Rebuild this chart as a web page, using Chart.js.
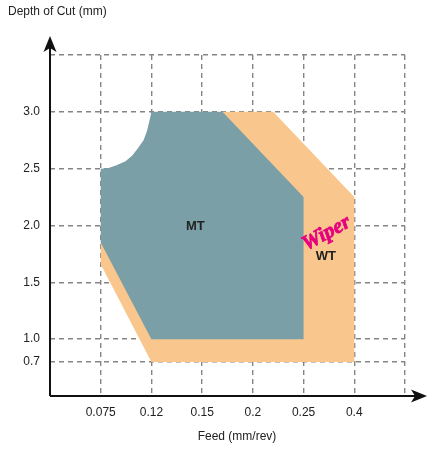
<!DOCTYPE html>
<html>
<head>
<meta charset="utf-8">
<script src="https://cdn.jsdelivr.net/npm/chart.js@4.4.1/dist/chart.umd.min.js"></script>
<style>
  body { margin: 0; background: #fff; }
  #wrap { width: 432px; height: 453px; }
</style>
</head>
<body>
<div id="wrap"><canvas id="cutChart"></canvas></div>
<script>
// axis ticks (schematic, evenly spaced on the chart)
const feedTicks = [0.075, 0.12, 0.15, 0.2, 0.25, 0.4];
const feedLabels = ['0.075', '0.12', '0.15', '0.2', '0.25', '0.4'];
const depthTicks = [0.7, 1.0, 1.5, 2.0, 2.5, 3.0];
const depthLabels = ['0.7', '1.0', '1.5', '2.0', '2.5', '3.0'];

// MT region outline (feed mm/rev, depth mm), curved top-left edge
const mtFeed  = [0.075, 0.082, 0.089, 0.097, 0.103, 0.108, 0.113, 0.116, 0.118, 0.12, 0.17, 0.25, 0.25, 0.12, 0.075, 0.075];
const mtDepth = [2.5,   2.505, 2.53,  2.565, 2.615, 2.68,  2.75,  2.83,  2.91,  3.0,  3.0,  2.25, 1.0,  1.0,  1.85,  2.5];

// WT (wiper) region outline
const wtFeed  = [0.12, 0.4, 0.4,  0.22, 0.17, 0.12, 0.075, 0.075, 0.12];
const wtDepth = [0.7,  0.7, 2.25, 3.0,  3.0,  2.0,  1.85,  1.66,  0.7];

// where each tick sits on the drawing grid
const feedSlots = [1, 2, 3, 4, 5, 6];
const depthSlots = [0.8, 1.0, 1.5, 2.0, 2.5, 3.0];

function slot(v, vals, slots) {
  for (let i = 0; i < vals.length - 1; i++) {
    if (v <= vals[i + 1] || i === vals.length - 2) {
      const t = (v - vals[i]) / (vals[i + 1] - vals[i]);
      return slots[i] + t * (slots[i + 1] - slots[i]);
    }
  }
}
const fx = v => slot(v, feedTicks, feedSlots);
const dy = v => slot(v, depthTicks, depthSlots);
const toPoints = (f, d) => f.map((v, i) => ({ x: fx(v), y: dy(d[i]) }));

const FONT = 'Liberation Sans, Arial, sans-serif';

function arrowHead(ctx, x, y, ux, uy) {
  // ux,uy = unit direction of the arrow
  const len = 16, half = 6.5, notch = 4;
  const px = -uy, py = ux;
  ctx.beginPath();
  ctx.moveTo(x, y);
  ctx.lineTo(x - ux * len + px * half, y - uy * len + py * half);
  ctx.lineTo(x - ux * (len - notch), y - uy * (len - notch));
  ctx.lineTo(x - ux * len - px * half, y - uy * len - py * half);
  ctx.closePath();
  ctx.fill();
}

const decorations = {
  id: 'decorations',
  afterDraw(chart) {
    const ctx = chart.ctx;
    const a = chart.chartArea;
    const xs = chart.scales.x, ys = chart.scales.y;
    ctx.save();
    // axes with arrows
    ctx.strokeStyle = '#111';
    ctx.fillStyle = '#111';
    ctx.lineWidth = 2;
    ctx.beginPath();
    ctx.moveTo(a.left, a.bottom);
    ctx.lineTo(a.left, 40);
    ctx.moveTo(a.left, a.bottom);
    ctx.lineTo(422, a.bottom);
    ctx.stroke();
    arrowHead(ctx, a.left, 36, 0, -1);
    arrowHead(ctx, 427, a.bottom, 1, 0);

    // axis titles
    ctx.fillStyle = '#222';
    ctx.font = '12px ' + FONT;
    ctx.textBaseline = 'middle';
    ctx.textAlign = 'left';
    ctx.fillText('Depth of Cut (mm)', 8, 12);
    ctx.textAlign = 'center';
    ctx.fillText('Feed (mm/rev)', 237, 437);

    // region labels
    ctx.font = 'bold 13px ' + FONT;
    ctx.fillText('MT', xs.getPixelForValue(fx(0.146)), ys.getPixelForValue(dy(1.99)));
    ctx.fillText('WT', xs.getPixelForValue(fx(0.316)), ys.getPixelForValue(dy(1.73)));

    ctx.translate(xs.getPixelForValue(fx(0.318)), ys.getPixelForValue(dy(1.93)));
    ctx.rotate(-29 * Math.PI / 180);
    ctx.fillStyle = '#e6007e';
    ctx.strokeStyle = '#e6007e';
    ctx.lineWidth = 0.8;
    ctx.font = 'bold italic 21px Liberation Serif, serif';
    ctx.fillText('Wiper', 0, 0);
    ctx.strokeText('Wiper', 0, 0);
    ctx.restore();
  }
};

new Chart(document.getElementById('cutChart'), {
  type: 'scatter',
  data: {
    datasets: [
      {
        label: 'MT',
        data: toPoints(mtFeed, mtDepth),
        showLine: true,
        fill: 'shape',
        backgroundColor: '#7a9fa6',
        borderColor: '#7a9fa6',
        borderWidth: 0,
        pointRadius: 0,
        order: 1
      },
      {
        label: 'WT',
        data: toPoints(wtFeed, wtDepth),
        showLine: true,
        fill: 'shape',
        backgroundColor: '#f9c68d',
        borderColor: '#f9c68d',
        borderWidth: 0,
        pointRadius: 0,
        order: 2
      }
    ]
  },
  options: {
    responsive: true,
    maintainAspectRatio: false,
    animation: false,
    events: [],
    layout: { padding: { top: 55, right: 27, left: 0, bottom: 0 } },
    plugins: { legend: { display: false }, tooltip: { enabled: false } },
    scales: {
      x: {
        type: 'linear',
        min: 0,
        max: 7,
        z: 1,
        border: { display: false, dash: [5, 4] },
        grid: { color: '#858585', lineWidth: 1.4, drawTicks: false },
        afterBuildTicks: s => { s.ticks = feedSlots.concat([7]).map(v => ({ value: v })); },
        afterFit: s => { s.height = 57; },
        ticks: {
          padding: 9,
          color: '#222',
          font: { family: FONT, size: 12 },
          maxRotation: 0,
          autoSkip: false,
          callback: v => { const i = feedSlots.indexOf(v); return i < 0 ? '' : feedLabels[i]; }
        }
      },
      y: {
        type: 'linear',
        min: 0.5,
        max: 3.5,
        z: 1,
        border: { display: false, dash: [5, 4] },
        grid: { color: '#858585', lineWidth: 1.4, drawTicks: false },
        afterBuildTicks: s => { s.ticks = depthSlots.concat([3.5]).map(v => ({ value: v })); },
        afterFit: s => { s.width = 50; },
        ticks: {
          padding: 10,
          color: '#222',
          font: { family: FONT, size: 12 },
          autoSkip: false,
          callback: v => { const i = depthSlots.indexOf(v); return i < 0 ? '' : depthLabels[i]; }
        }
      }
    }
  },
  plugins: [decorations]
});
</script>
</body>
</html>
